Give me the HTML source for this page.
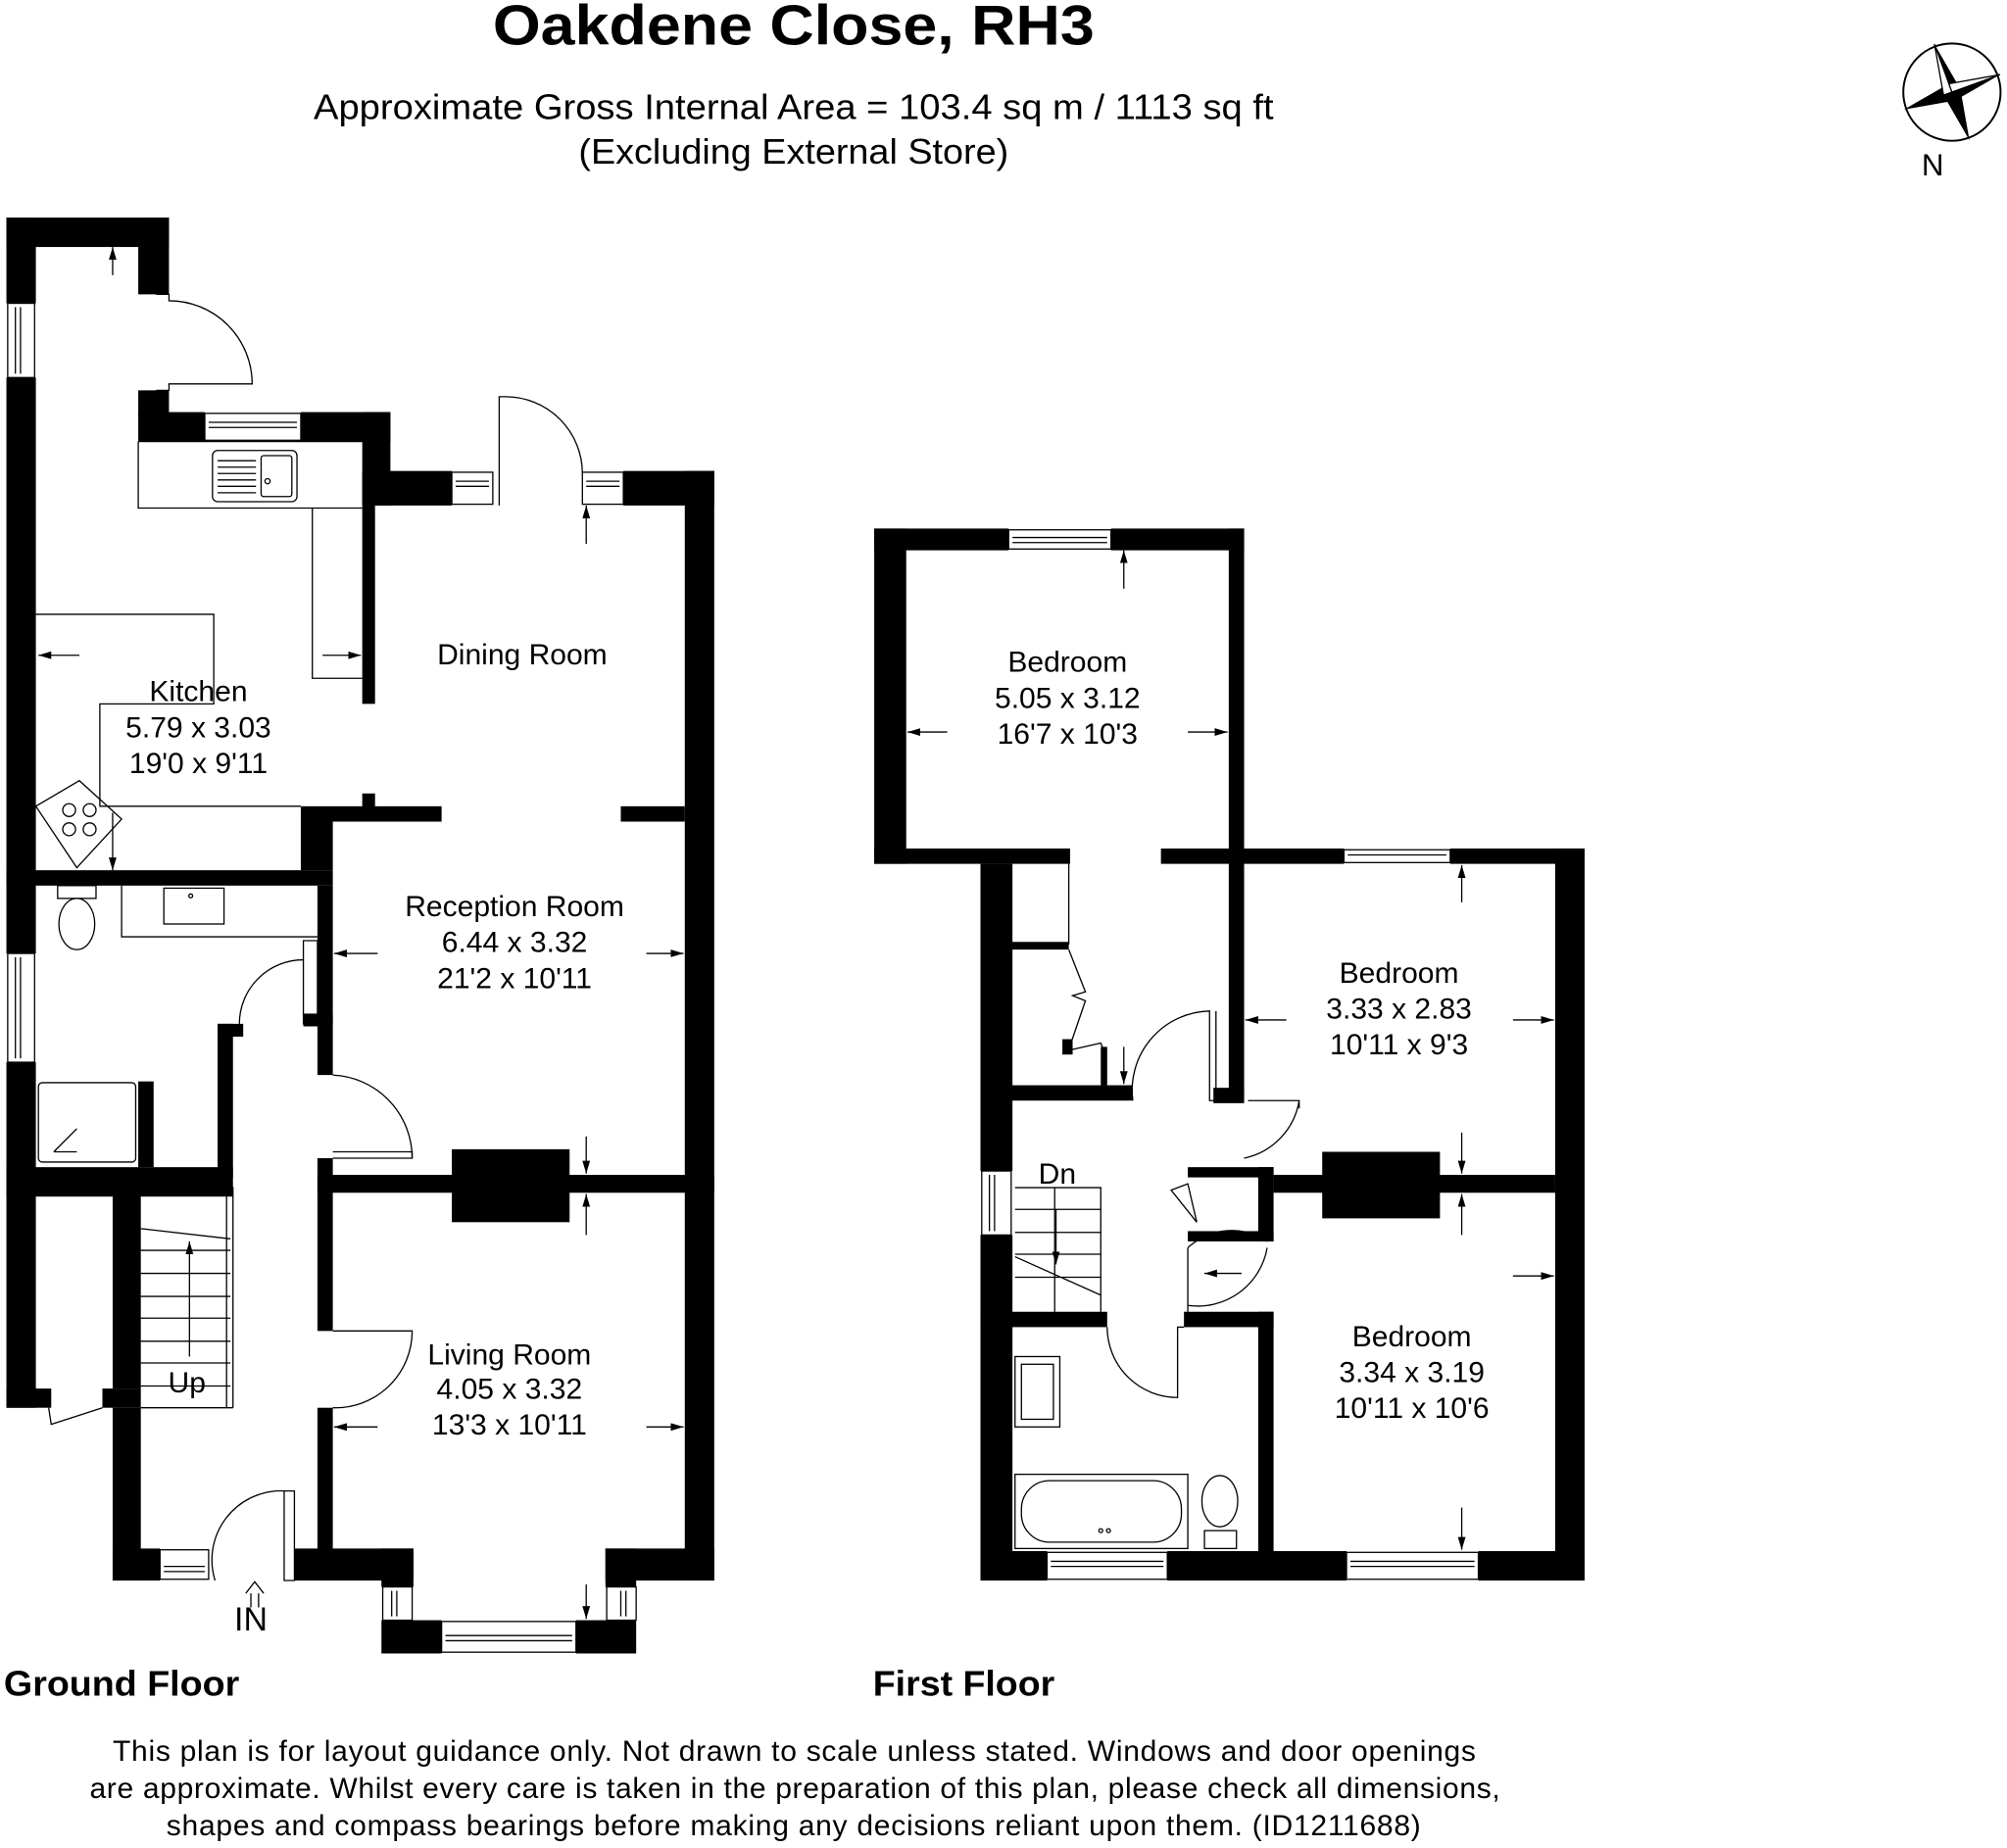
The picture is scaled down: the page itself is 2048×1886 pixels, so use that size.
<!DOCTYPE html>
<html><head><meta charset="utf-8"><style>
html,body{margin:0;padding:0;background:#fff;}
svg{display:block;}
text{font-family:"Liberation Sans",Arial,sans-serif;fill:#000;}
</style></head><body>
<svg width="2048" height="1886" viewBox="0 0 1568 1444" xmlns="http://www.w3.org/2000/svg">
<defs>
<marker id="ah" markerWidth="10" markerHeight="8" refX="10" refY="4" orient="auto" markerUnits="userSpaceOnUse"><path d="M0,1 L10,4 L0,7 Z" fill="#000"/></marker>
</defs>
<rect width="1568" height="1444" fill="#fff"/>
<!-- Titles -->
<text x="385" y="35" font-size="44" font-weight="bold" textLength="470" lengthAdjust="spacingAndGlyphs">Oakdene Close, RH3</text>
<text x="245" y="93" font-size="28" textLength="750" lengthAdjust="spacingAndGlyphs">Approximate Gross Internal Area = 103.4 sq m / 1113 sq ft</text>
<text x="452" y="128" font-size="28" textLength="336" lengthAdjust="spacingAndGlyphs">(Excluding External Store)</text>
<!-- Compass -->
<g transform="translate(1525,72)">
<circle r="38" fill="none" stroke="#000" stroke-width="1.5"/>
<g transform="rotate(-20)">
<path d="M0,-40 L7,0 L0,40 L-7,0 Z" fill="#000"/>
<path d="M-40,0 L0,7 L40,0 L0,-7 Z" fill="#000"/>
<path d="M0,-40 L-7,0 L0,0 Z" fill="#fff" stroke="#000"/>
<path d="M40,0 L0,-7 L0,0 Z" fill="#fff" stroke="#000"/>
</g>
</g>
<text x="1510" y="137" font-size="24" text-anchor="middle">N</text>

<g fill="#000">
<rect x="5" y="170" width="127" height="23"/>
<rect x="5" y="170" width="23" height="67"/>
<rect x="5" y="295" width="23" height="450"/>
<rect x="5" y="830" width="23" height="270"/>
<rect x="108" y="170" width="24" height="60"/>
<rect x="108" y="305" width="24" height="20"/>
<rect x="108" y="322" width="52" height="23"/>
<rect x="235" y="322" width="70" height="23"/>
<rect x="283" y="322" width="22" height="73"/>
<rect x="283" y="368" width="70" height="27"/>
<rect x="487" y="368" width="71" height="27"/>
<rect x="535" y="368" width="23" height="867"/>
<rect x="283" y="395" width="10" height="155"/>
<rect x="283" y="620" width="10" height="12"/>
<rect x="235" y="630" width="110" height="12"/>
<rect x="485" y="630" width="50" height="12"/>
<rect x="235" y="642" width="25" height="38"/>
<rect x="5" y="680" width="255" height="12"/>
<rect x="248" y="692" width="12" height="108"/>
<rect x="237" y="792" width="23" height="10"/>
<rect x="248" y="802" width="12" height="38"/>
<rect x="248" y="905" width="12" height="135"/>
<rect x="248" y="1100" width="12" height="115"/>
<rect x="248" y="918" width="310" height="14"/>
<rect x="353" y="898" width="92" height="57"/>
<rect x="108" y="845" width="12" height="67"/>
<rect x="170" y="800" width="12" height="120"/>
<rect x="170" y="800" width="20" height="10"/>
<rect x="5" y="912" width="177" height="23"/>
<rect x="88" y="930" width="22" height="155"/>
<rect x="88" y="1100" width="22" height="135"/>
<rect x="5" y="1085" width="35" height="15"/>
<rect x="80" y="1085" width="30" height="15"/>
<rect x="88" y="1210" width="37" height="25"/>
<rect x="230" y="1210" width="93" height="25"/>
<rect x="298" y="1210" width="25" height="30"/>
<rect x="298" y="1266" width="47" height="26"/>
<rect x="450" y="1266" width="47" height="26"/>
<rect x="473" y="1210" width="24" height="30"/>
<rect x="473" y="1210" width="85" height="25"/>

<rect x="683" y="413" width="105" height="17"/>
<rect x="868" y="413" width="104" height="17"/>
<rect x="683" y="413" width="25" height="262"/>
<rect x="683" y="663" width="153" height="12"/>
<rect x="907" y="663" width="143" height="12"/>
<rect x="1133" y="663" width="105" height="12"/>
<rect x="960" y="413" width="12" height="447"/>
<rect x="948" y="850" width="24" height="12"/>
<rect x="766" y="675" width="25" height="240"/>
<rect x="766" y="965" width="25" height="247"/>
<rect x="790" y="736" width="45" height="6"/>
<rect x="790" y="848" width="95" height="12"/>
<rect x="1215" y="663" width="23" height="572"/>
<rect x="766" y="1212" width="52" height="23"/>
<rect x="912" y="1212" width="140" height="23"/>
<rect x="1155" y="1212" width="83" height="23"/>
<rect x="995" y="918" width="220" height="14"/>
<rect x="1033" y="900" width="92" height="52"/>
<rect x="928" y="912" width="67" height="8"/>
<rect x="983" y="912" width="12" height="58"/>
<rect x="928" y="962" width="67" height="8"/>
<rect x="766" y="1025" width="99" height="12"/>
<rect x="925" y="1025" width="70" height="12"/>
<rect x="983" y="1025" width="12" height="187"/>
<rect x="830" y="812" width="8" height="12"/>
<rect x="860" y="818" width="5" height="30"/>
</g>

<g fill="#fff" stroke="#000" stroke-width="1">
<rect x="6" y="237" width="21" height="58"/><line x1="12" y1="240" x2="12" y2="292"/><line x1="16" y1="240" x2="16" y2="292"/>
<rect x="160" y="323" width="75" height="21"/><line x1="163" y1="330" x2="232" y2="330"/><line x1="163" y1="334" x2="232" y2="334"/>
<rect x="353" y="369" width="32" height="25"/><line x1="356" y1="376" x2="382" y2="376"/><line x1="356" y1="380" x2="382" y2="380"/>
<rect x="455" y="369" width="32" height="25"/><line x1="458" y1="376" x2="484" y2="376"/><line x1="458" y1="380" x2="484" y2="380"/>
<rect x="6" y="745" width="21" height="85"/><line x1="12" y1="748" x2="12" y2="827"/><line x1="16" y1="748" x2="16" y2="827"/>
<rect x="125" y="1211" width="38" height="23"/><line x1="128" y1="1224" x2="160" y2="1224"/><line x1="128" y1="1228" x2="160" y2="1228"/>
<rect x="299" y="1240" width="23" height="26"/><line x1="306" y1="1243" x2="306" y2="1263"/><line x1="310" y1="1243" x2="310" y2="1263"/>
<rect x="474" y="1240" width="23" height="26"/><line x1="485" y1="1243" x2="485" y2="1263"/><line x1="489" y1="1243" x2="489" y2="1263"/>
<rect x="345" y="1267" width="105" height="24"/><line x1="348" y1="1278" x2="447" y2="1278"/><line x1="348" y1="1282" x2="447" y2="1282"/>
<rect x="788" y="414" width="80" height="15"/><line x1="791" y1="420" x2="865" y2="420"/><line x1="791" y1="424" x2="865" y2="424"/>
<rect x="1050" y="664" width="83" height="10"/><line x1="1053" y1="668" x2="1130" y2="668"/>
<rect x="767" y="915" width="23" height="50"/><line x1="773" y1="918" x2="773" y2="962"/><line x1="777" y1="918" x2="777" y2="962"/>
<rect x="818" y="1213" width="94" height="21"/><line x1="821" y1="1220" x2="909" y2="1220"/><line x1="821" y1="1224" x2="909" y2="1224"/>
<rect x="1052" y="1213" width="103" height="21"/><line x1="1055" y1="1220" x2="1152" y2="1220"/><line x1="1055" y1="1224" x2="1152" y2="1224"/>
</g>

<g fill="none" stroke="#000" stroke-width="1">
<path d="M108,345 H283 M108,345 V397 H283"/>
<rect x="166" y="352" width="66" height="40" rx="4"/><rect x="204" y="356" width="24" height="32" rx="2"/>
<path d="M170,360h30M170,365h30M170,370h30M170,375h30M170,380h30M170,385h30"/>
<circle cx="209" cy="376" r="2"/>
<path d="M244,397 V530 H283"/>
<path d="M28,480 H167 V550 H78 V630 H235"/>
<path d="M28,630 L62,610 L95,640 L60,678 Z"/>
<circle cx="54" cy="633" r="5"/><circle cx="70" cy="633" r="5"/><circle cx="54" cy="648" r="5"/><circle cx="70" cy="648" r="5"/>
<path d="M122,230 H132 V235 A65,65 0 0 1 197,300 H132 V305 H122"/>
<path d="M390,395 V310 H395 A60,60 0 0 1 455,370"/>
<path d="M95,692 V732 H248"/>
<rect x="128" y="694" width="47" height="28"/><circle cx="149" cy="700" r="1.5"/>
<rect x="45" y="692" width="30" height="10"/><ellipse cx="60" cy="722" rx="14" ry="20"/>
<rect x="30" y="846" width="76" height="62" rx="3"/><path d="M42,900 L60,882 M42,900 H60"/>
<path d="M237,735 V800 H248 V735 Z"/><path d="M187,800 A50,50 0 0 1 237,750"/>
<path d="M260,905 H322 A65,65 0 0 0 260,840"/><path d="M260,900 H322 V905"/>
<path d="M260,1040 H322 A60,60 0 0 1 260,1100"/>
<path d="M110,928 H182 V1100 M110,1100 H182 M110,960 L180,968 M110,977H180M110,995H180M110,1013H180M110,1030H180M110,1048H180M110,1065H180M110,1083H180 M177,928V1100"/>
<path d="M38,1100 L40,1113 L80,1100"/>
<path d="M222,1165 H230 V1235 H222 Z"/><path d="M168,1235 A54,54 0 0 1 222,1165"/>
<path d="M192,1245 L199,1236 L206,1245 M196,1245 V1256 M202,1245 V1256"/>

<path d="M835,675 V738"/>
<path d="M835,742 L848,775 L838,778 L848,782 L835,820 M838,820 L860,815 L862,820"/>
<path d="M885,860 A62,62 0 0 1 945,790 V860 H950 V790"/>
<path d="M793,928 H860 V1025 M793,945H860 M793,963H860 M793,980H860 M793,998H860 M824,928V1025 M793,982 L860,1012"/>
<path d="M915,930 L928,925 L935,955 Z"/>
<path d="M928,975 A50,50 0 0 1 990,970 M928,975 V1025"/>
<path d="M928,1020 A55,55 0 0 0 990,975"/>
<path d="M865,1037 A55,55 0 0 0 920,1092 V1037 H925"/>
<path d="M975,860 H1015 A55,55 0 0 1 972,905 M1015,860 V866"/>
<rect x="793" y="1060" width="35" height="55"/><rect x="798" y="1066" width="25" height="43"/>
<rect x="793" y="1152" width="135" height="58"/><rect x="798" y="1157" width="125" height="48" rx="22"/>
<circle cx="860" cy="1196" r="1.5"/><circle cx="866" cy="1196" r="1.5"/>
<ellipse cx="953" cy="1173" rx="14" ry="20"/><rect x="941" y="1196" width="25" height="14"/>
</g>

<g stroke="#000" stroke-width="1" marker-end="url(#ah)">
<line x1="88" y1="215" x2="88" y2="193"/>
<line x1="62" y1="512" x2="30" y2="512"/>
<line x1="252" y1="512" x2="282" y2="512"/>
<line x1="88" y1="635" x2="88" y2="680"/>
<line x1="458" y1="425" x2="458" y2="395"/>
<line x1="295" y1="745" x2="261" y2="745"/>
<line x1="505" y1="745" x2="534" y2="745"/>
<line x1="458" y1="888" x2="458" y2="917"/>
<line x1="458" y1="965" x2="458" y2="933"/>
<line x1="295" y1="1115" x2="261" y2="1115"/>
<line x1="505" y1="1115" x2="534" y2="1115"/>
<line x1="458" y1="1238" x2="458" y2="1265"/>
<line x1="148" y1="1060" x2="148" y2="970"/>
<line x1="878" y1="460" x2="878" y2="430"/>
<line x1="740" y1="572" x2="709" y2="572"/>
<line x1="928" y1="572" x2="959" y2="572"/>
<line x1="1142" y1="705" x2="1142" y2="676"/>
<line x1="1005" y1="797" x2="973" y2="797"/>
<line x1="1182" y1="797" x2="1214" y2="797"/>
<line x1="1142" y1="885" x2="1142" y2="917"/>
<line x1="1142" y1="965" x2="1142" y2="933"/>
<line x1="1182" y1="997" x2="1214" y2="997"/>
<line x1="1142" y1="1178" x2="1142" y2="1211"/>
<line x1="878" y1="818" x2="878" y2="847"/>
<line x1="825" y1="945" x2="825" y2="988"/>
<line x1="970" y1="995" x2="941" y2="995"/>
</g>

<g font-size="23" text-anchor="middle">
<text x="155" y="548">Kitchen</text><text x="155" y="576">5.79 x 3.03</text><text x="155" y="604">19'0 x 9'11</text>
<text x="408" y="519">Dining Room</text>
<text x="402" y="716">Reception Room</text><text x="402" y="744">6.44 x 3.32</text><text x="402" y="772">21'2 x 10'11</text>
<text x="398" y="1066">Living Room</text><text x="398" y="1093">4.05 x 3.32</text><text x="398" y="1121">13'3 x 10'11</text>
<text x="146" y="1088">Up</text>
<text x="834" y="525">Bedroom</text><text x="834" y="553">5.05 x 3.12</text><text x="834" y="581">16'7 x 10'3</text>
<text x="1093" y="768">Bedroom</text><text x="1093" y="796">3.33 x 2.83</text><text x="1093" y="824">10'11 x 9'3</text>
<text x="1103" y="1052">Bedroom</text><text x="1103" y="1080">3.34 x 3.19</text><text x="1103" y="1108">10'11 x 10'6</text>
<text x="826" y="925">Dn</text>
</g>
<text x="196" y="1274" font-size="26" text-anchor="middle">IN</text>
<text x="3" y="1325" font-size="28" font-weight="bold" textLength="184" lengthAdjust="spacingAndGlyphs">Ground Floor</text>
<text x="682" y="1325" font-size="28" font-weight="bold" textLength="142" lengthAdjust="spacingAndGlyphs">First Floor</text>
<g font-size="23" lengthAdjust="spacingAndGlyphs">
<text x="88" y="1376" textLength="1065">This plan is for layout guidance only. Not drawn to scale unless stated. Windows and door openings</text>
<text x="70" y="1405" textLength="1102">are approximate. Whilst every care is taken in the preparation of this plan, please check all dimensions,</text>
<text x="130" y="1434" textLength="980">shapes and compass bearings before making any decisions reliant upon them. (ID1211688)</text>
</g>
</svg>
</body></html>
